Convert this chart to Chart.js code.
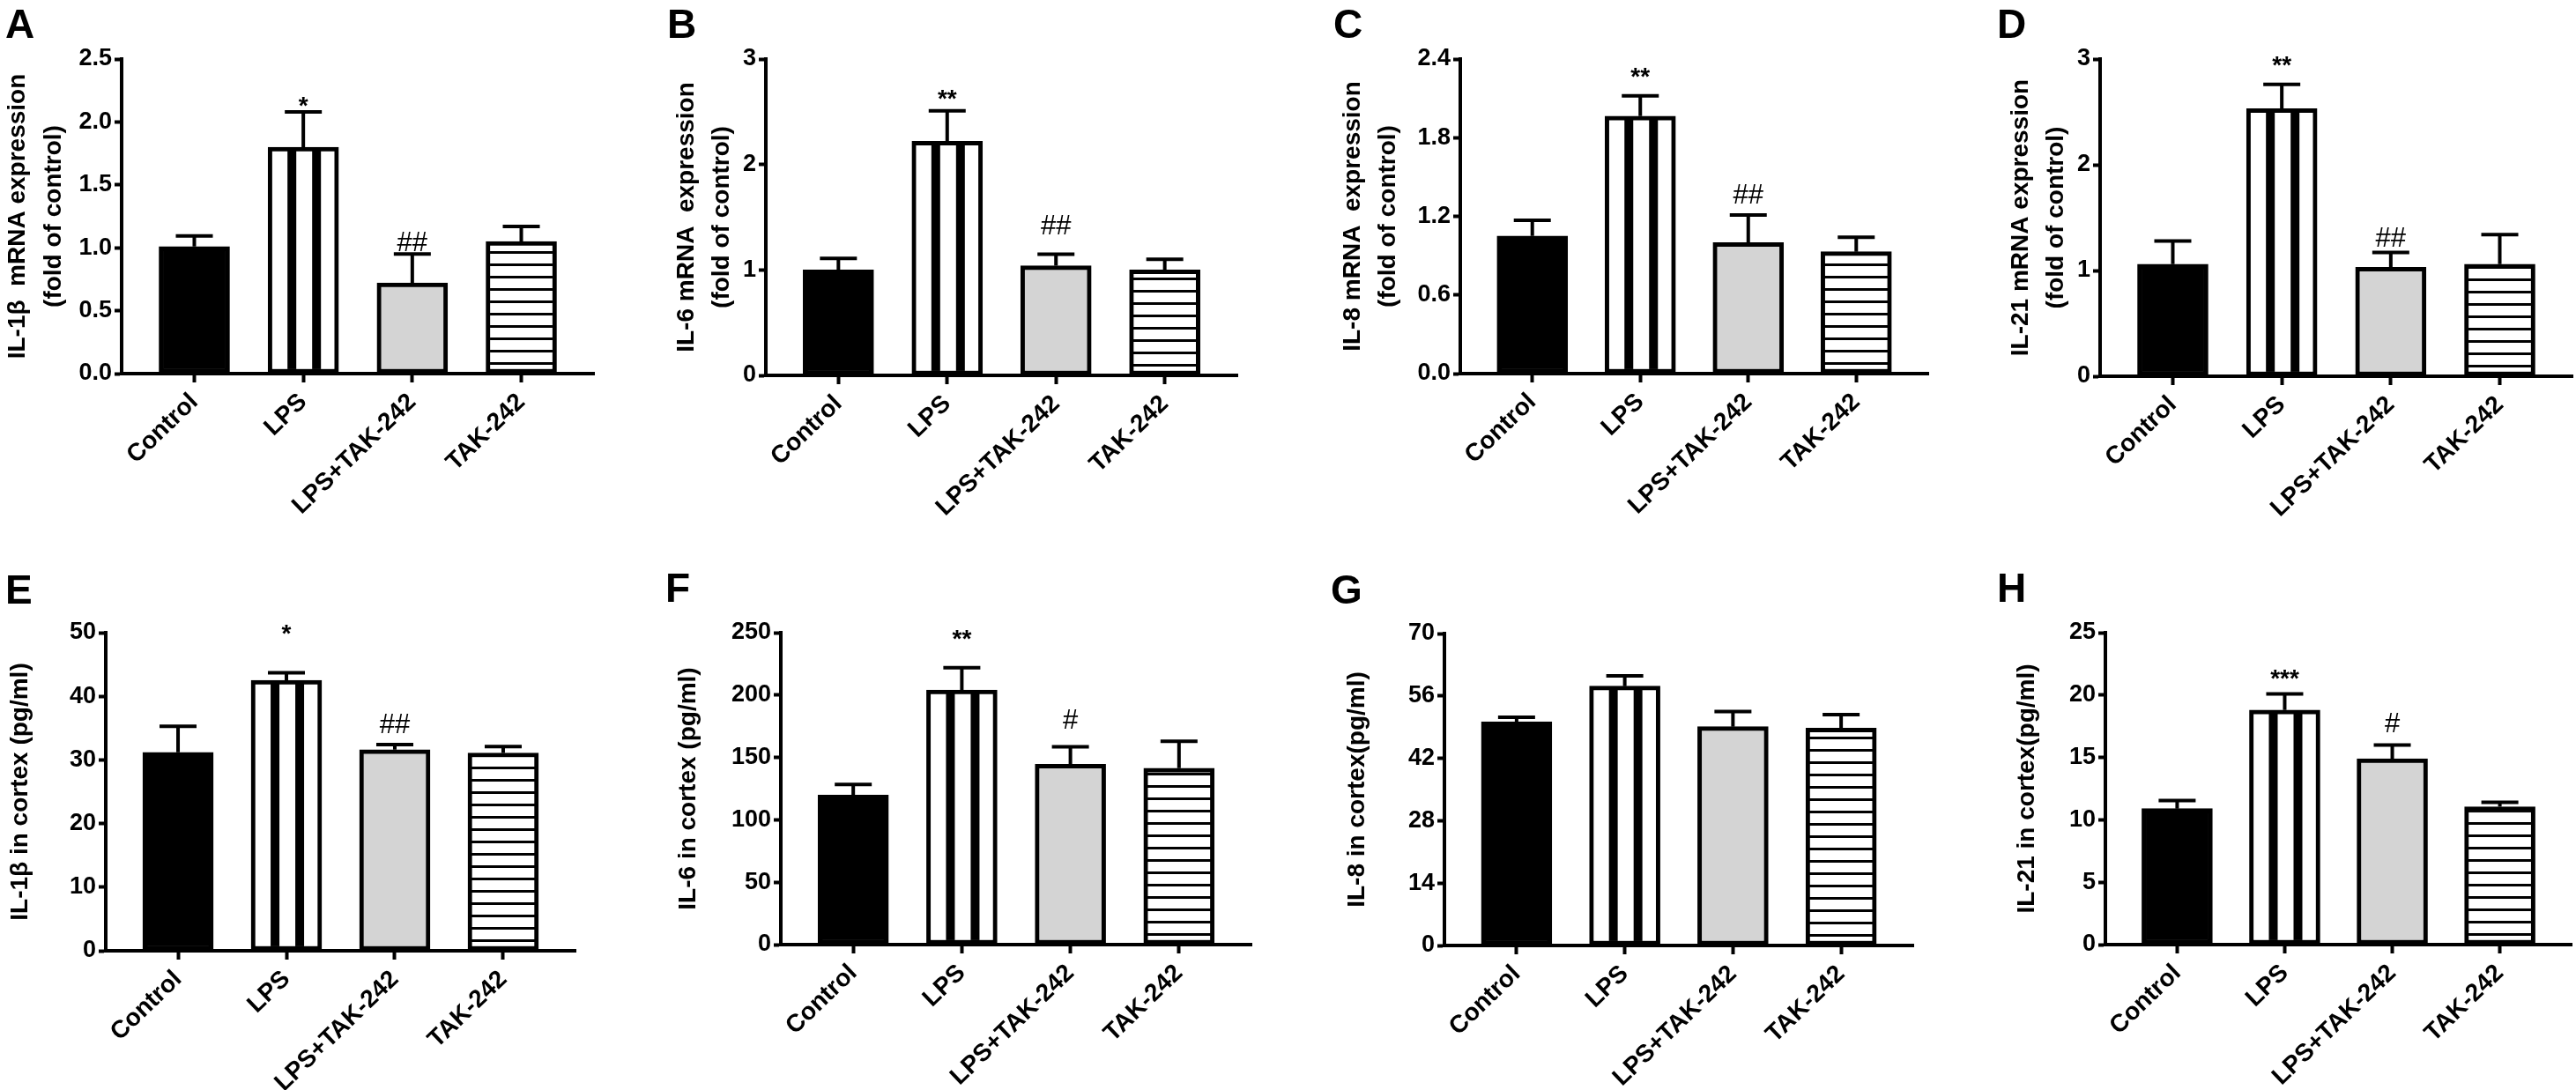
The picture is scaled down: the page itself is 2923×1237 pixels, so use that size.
<!DOCTYPE html>
<html>
<head>
<meta charset="utf-8">
<script src="https://cdn.jsdelivr.net/npm/chart.js@4"></script>
<style>
html, body { margin: 0; padding: 0; background: #fff; }
#fig { position: relative; width: 2923px; height: 1237px; background: #fff; overflow: hidden; }
#fig canvas { position: absolute; }
.letter { position: absolute; font: bold 46px 'Liberation Sans', Arial, sans-serif; line-height: 46px; color: #000; }
</style>
</head>
<body>
<div id="fig"></div>
<script>
const groups = ['Control', 'LPS', 'LPS+TAK-242', 'TAK-242'];

// mRNA, fold of control (A-D)
const il1bMrna = [1.01, 1.80, 0.72, 1.05];
const il1bMrnaErr = [0.085, 0.28, 0.23, 0.12];
const il6Mrna = [1.00, 2.22, 1.04, 1.00];
const il6MrnaErr = [0.11, 0.29, 0.11, 0.10];
const il8Mrna = [1.05, 1.965, 1.00, 0.93];
const il8MrnaErr = [0.12, 0.155, 0.21, 0.11];
const il21Mrna = [1.06, 2.53, 1.03, 1.06];
const il21MrnaErr = [0.22, 0.23, 0.14, 0.28];

// protein in cortex, pg/ml (E-H)
const il1bCortex = [31.2, 42.5, 31.6, 31.1];
const il1bCortexErr = [4.1, 1.2, 0.8, 1.0];
const il6Cortex = [119.8, 204, 144.5, 141.4];
const il6CortexErr = [8.6, 18, 14.1, 21.6];
const il8Cortex = [50.2, 58.2, 49.1, 48.8];
const il8CortexErr = [1.0, 2.3, 3.4, 3.0];
const il21Cortex = [10.9, 18.8, 14.9, 11.05];
const il21CortexErr = [0.65, 1.3, 1.1, 0.35];

// significance marks and the level they sit at
const marksA = ['', '*', '##', ''];   const marksAAt = [null, 2.18, 1.05, null];
const marksB = ['', '**', '##', ''];  const marksBAt = [null, 2.68, 1.43, null];
const marksC = ['', '**', '##', ''];  const marksCAt = [null, 2.31, 1.37, null];
const marksD = ['', '**', '##', ''];  const marksDAt = [null, 3.0, 1.32, null];
const marksE = ['', '*', '##', ''];   const marksEAt = [null, 50.8, 35.7, null];
const marksF = ['', '**', '#', ''];   const marksFAt = [null, 250, 181, null];
const marksG = ['', '', '', ''];      const marksGAt = [null, null, null, null];
const marksH = ['', '***', '#', ''];  const marksHAt = [null, 21.8, 17.8, null];

// y tick values
const ticksA = [0, 0.5, 1, 1.5, 2, 2.5];
const ticksB = [0, 1, 2, 3];
const ticksC = [0, 0.6, 1.2, 1.8, 2.4];
const ticksD = [0, 1, 2, 3];
const ticksE = [0, 10, 20, 30, 40, 50];
const ticksF = [0, 50, 100, 150, 200, 250];
const ticksG = [0, 14, 28, 42, 56, 70];
const ticksH = [0, 5, 10, 15, 20, 25];

const FONT = "'Liberation Sans', Arial, sans-serif";
Chart.defaults.font.family = FONT;
Chart.defaults.color = '#000';

const panels = [
  { id: 'A', values: il1bMrna, err: il1bMrnaErr, marks: marksA, marksAt: marksAAt, ticks: ticksA, dec: 1,
    title: ['IL-1\u03b2  mRNA expression', '(fold of control)'],
    left: 0, top: 0, h: 600, ax: 138, ex: 674, ty: 67, zy: 424, tx: 20, lx: 6, ly: 10 },
  { id: 'B', values: il6Mrna, err: il6MrnaErr, marks: marksB, marksAt: marksBAt, ticks: ticksB, dec: 0,
    title: ['IL-6 mRNA  expression', '(fold of control)'],
    left: 730, top: 0, h: 600, ax: 869, ex: 1404, ty: 67, zy: 426, tx: 779, lx: 757, ly: 10 },
  { id: 'C', values: il8Mrna, err: il8MrnaErr, marks: marksC, marksAt: marksCAt, ticks: ticksC, dec: 1,
    title: ['IL-8 mRNA  expression', '(fold of control)'],
    left: 1460, top: 0, h: 600, ax: 1657, ex: 2188, ty: 67, zy: 424, tx: 1535, lx: 1513, ly: 10 },
  { id: 'D', values: il21Mrna, err: il21MrnaErr, marks: marksD, marksAt: marksDAt, ticks: ticksD, dec: 0,
    title: ['IL-21 mRNA expression', '(fold of control)'],
    left: 2190, top: 0, h: 600, ax: 2383, ex: 2919, ty: 67, zy: 427, tx: 2293, lx: 2266, ly: 10 },
  { id: 'E', values: il1bCortex, err: il1bCortexErr, marks: marksE, marksAt: marksEAt, ticks: ticksE, dec: 0,
    title: 'IL-1\u03b2 in cortex (pg/ml)',
    left: 0, top: 600, h: 637, ax: 120, ex: 653, ty: 718, zy: 1079, tx: 23, lx: 6, ly: 652 },
  { id: 'F', values: il6Cortex, err: il6CortexErr, marks: marksF, marksAt: marksFAt, ticks: ticksF, dec: 0,
    title: 'IL-6 in cortex (pg/ml)',
    left: 730, top: 600, h: 637, ax: 886, ex: 1420, ty: 718, zy: 1072, tx: 781, lx: 755, ly: 650 },
  { id: 'G', values: il8Cortex, err: il8CortexErr, marks: marksG, marksAt: marksGAt, ticks: ticksG, dec: 0,
    title: 'IL-8 in cortex(pg/ml)',
    left: 1460, top: 600, h: 637, ax: 1639, ex: 2171, ty: 719, zy: 1073, tx: 1540, lx: 1510, ly: 652 },
  { id: 'H', values: il21Cortex, err: il21CortexErr, marks: marksH, marksAt: marksHAt, ticks: ticksH, dec: 0,
    title: 'IL-21 in cortex(pg/ml)',
    left: 2190, top: 600, h: 637, ax: 2389, ex: 2918, ty: 718, zy: 1072, tx: 2300, lx: 2266, ly: 650 }
];

function stripes(ctx, dir) {
  const tile = document.createElement('canvas');
  const t = tile.getContext('2d');
  if (dir === 'v') {
    tile.width = 28; tile.height = 4;
    t.fillStyle = '#fff'; t.fillRect(0, 0, 28, 4);
    t.fillStyle = '#000'; t.fillRect(0, 0, 10, 4);
  } else {
    tile.width = 4; tile.height = 14;
    t.fillStyle = '#fff'; t.fillRect(0, 0, 4, 14);
    t.fillStyle = '#000'; t.fillRect(0, 0, 4, 3);
  }
  return ctx.createPattern(tile, 'repeat');
}

// upper error bars with caps
const errorBars = {
  id: 'errorBars',
  afterDatasetsDraw(chart, args, opts) {
    const { ctx, scales: { x, y } } = chart;
    ctx.save();
    ctx.strokeStyle = '#000';
    ctx.lineWidth = 4;
    opts.values.forEach((v, i) => {
      const xc = x.getPixelForValue(i);
      const y0 = y.getPixelForValue(v);
      const y1 = y.getPixelForValue(v + opts.err[i]);
      ctx.beginPath();
      ctx.moveTo(xc, y0);
      ctx.lineTo(xc, y1);
      ctx.moveTo(xc - 21, y1);
      ctx.lineTo(xc + 21, y1);
      ctx.stroke();
    });
    ctx.restore();
  }
};

// * / # significance marks
const sigMarks = {
  id: 'sigMarks',
  afterDraw(chart, args, opts) {
    const { ctx, scales: { x, y } } = chart;
    ctx.save();
    ctx.fillStyle = '#000';
    ctx.textAlign = 'center';
    ctx.textBaseline = 'alphabetic';
    opts.marks.forEach((m, i) => {
      if (!m) return;
      const star = m[0] === '*';
      const size = star ? 28 : 31;
      ctx.font = (star ? 'bold ' : '') + size + 'px ' + FONT;
      const yc = y.getPixelForValue(opts.at[i]);
      ctx.fillText(m, x.getPixelForValue(i), yc + (star ? 0.575 : 0.36) * size);
    });
    ctx.restore();
  }
};

// keep stripes fixed to each bar
const stripeAnchor = {
  id: 'stripeAnchor',
  beforeDatasetsDraw(chart, args, opts) {
    const x = chart.scales.x;
    const y = chart.scales.y;
    const left = x.getPixelForValue(1) - 40;
    opts.v.setTransform(new DOMMatrix([1, 0, 0, 1, left + 22, 0]));
    opts.h.setTransform(new DOMMatrix([1, 0, 0, 1, 0, y.getPixelForValue(0) - 13]));
  }
};

const fig = document.getElementById('fig');

panels.forEach(p => {
  const W = p.ex - p.left + 4;
  const cv = document.createElement('canvas');
  cv.width = W;
  cv.height = p.h;
  cv.style.left = p.left + 'px';
  cv.style.top = p.top + 'px';
  cv.style.width = W + 'px';
  cv.style.height = p.h + 'px';
  fig.appendChild(cv);

  const lab = document.createElement('div');
  lab.className = 'letter';
  lab.textContent = p.id;
  lab.style.left = p.lx + 'px';
  lab.style.top = (p.ly - 6) + 'px';
  fig.appendChild(lab);

  const ctx = cv.getContext('2d');
  const vStripe = stripes(ctx, 'v');
  const hStripe = stripes(ctx, 'h');
  const titleLh = 28 * 1.45;

  new Chart(cv, {
    type: 'bar',
    data: {
      datasets: [{
        data: p.values.map((v, i) => ({ x: i, y: v })),
        backgroundColor: ['#000', vStripe, '#d4d4d4', hStripe],
        borderColor: '#000',
        borderWidth: 5,
        borderSkipped: false,
        barThickness: 80
      }]
    },
    options: {
      responsive: false,
      animation: false,
      devicePixelRatio: 1,
      events: [],
      layout: { padding: { left: 0, right: 4, top: p.ty - p.top, bottom: 0 } },
      plugins: {
        legend: { display: false },
        tooltip: { enabled: false },
        errorBars: { values: p.values, err: p.err },
        sigMarks: { marks: p.marks, at: p.marksAt },
        stripeAnchor: { v: vStripe, h: hStripe }
      },
      scales: {
        x: {
          type: 'linear',
          offset: false,
          min: -0.667,
          max: 3.667,
          afterBuildTicks: s => { s.ticks = groups.map((g, i) => ({ value: i })); },
          afterFit: s => { s.height = p.top + p.h - p.zy; },
          grid: { offset: false, drawOnChartArea: false, drawTicks: true, tickLength: 10, tickWidth: 4, tickColor: '#000' },
          border: { display: true, width: 4, color: '#000' },
          ticks: {
            autoSkip: false,
            minRotation: 44,
            maxRotation: 44,
            padding: 6,
            color: '#000',
            font: { size: 28, weight: 'bold' },
            callback: v => groups[v]
          }
        },
        y: {
          min: 0,
          max: p.ticks[p.ticks.length - 1],
          afterBuildTicks: s => { s.ticks = p.ticks.map(v => ({ value: v })); },
          afterFit: s => { s.width = p.ax - p.left; },
          grid: { drawOnChartArea: false, drawTicks: true, tickLength: 8, tickWidth: 4, tickColor: '#000' },
          border: { display: true, width: 4, color: '#000' },
          ticks: {
            padding: 3,
            color: '#000',
            font: { size: 27, weight: 'bold' },
            callback: v => Number(v).toFixed(p.dec)
          },
          title: {
            display: true,
            text: p.title,
            color: '#000',
            font: { size: 28, weight: 'bold', lineHeight: 1.45 },
            padding: { top: Math.max(0, p.tx - p.left - titleLh / 2), bottom: 0 }
          }
        }
      }
    },
    plugins: [stripeAnchor, errorBars, sigMarks]
  });
});
</script>
</body>
</html>
